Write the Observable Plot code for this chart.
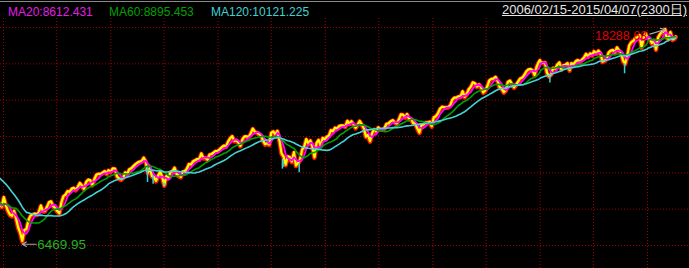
<!DOCTYPE html>
<html><head><meta charset="utf-8">
<script src="https://cdn.jsdelivr.net/npm/d3@7"></script>
<script src="https://cdn.jsdelivr.net/npm/@observablehq/plot@0.6"></script>
<style>
html,body{margin:0;padding:0;background:#000;}
#wrap{position:relative;width:689px;height:268px;background:#000;overflow:hidden;font-family:"Liberation Sans",Arial,sans-serif;}
#hdr{position:absolute;left:0;top:0;width:689px;height:16px;background:#000;z-index:2;}
#hdr .line{position:absolute;left:0;top:1px;width:689px;height:1px;background:#8a8a8a;}
#hdr span{position:absolute;white-space:nowrap;}
.ma{top:6px;font-size:12px;line-height:12px;}
#range{top:3px;right:2px;font-size:13px;line-height:13px;color:#e6e6e6;text-decoration:underline;}
#chart{position:absolute;left:0;top:0;}
</style></head>
<body>
<div id="wrap">
  <div id="hdr"><div class="line"></div>
    <span class="ma" id="ma20" style="left:8px;color:#e020e0"></span>
    <span class="ma" id="ma60" style="left:109px;color:#00a000"></span>
    <span class="ma" id="ma120" style="left:211px;color:#40d0d0"></span>
    <span id="range"></span>
  </div>
  <div id="chart"></div>
</div>
<script>
// ---- header texts ----
const maLabels = ["MA20:8612.431", "MA60:8895.453", "MA120:10121.225"];
const rangeLabel = "2006/02/15-2015/04/07(2300日)";

// ---- weekly closes (Dow Jones) ----
const dates2008 = ["06-06","06-13","06-20","06-27","07-03","07-11","07-18","07-25","08-01","08-08","08-15","08-22","08-29","09-05","09-12","09-19","09-26","10-03","10-10","10-17","10-24","10-31","11-07","11-14","11-21","11-28","12-05","12-12","12-19","12-26"];
const close2008 = [12209,12308,11843,11347,11288,11100,11496,11370,11326,11734,11659,11628,11543,11220,11421,11388,11143,10325,8451,8852,8378,9325,8943,8497,8046,8829,8635,8629,8579,8515];

const dates2009 = ["01-02","01-09","01-16","01-23","01-30","02-06","02-13","02-20","02-27","03-06","03-13","03-20","03-27","04-03","04-09","04-17","04-24","05-01","05-08","05-15","05-22","05-29","06-05","06-12","06-19","06-26","07-02","07-10","07-17","07-24","07-31","08-07","08-14","08-21","08-28","09-04","09-11","09-18","09-25","10-02","10-09","10-16","10-23","10-30","11-06","11-13","11-20","11-27","12-04","12-11","12-18","12-24","12-31"];
const close2009 = [9034,8599,8281,8077,8000,8280,7850,7366,7063,6627,7224,7278,7776,8018,8083,8131,8076,8212,8575,8268,8277,8500,8763,8799,8539,8438,8280,8146,8743,9093,9171,9370,9321,9505,9544,9441,9605,9820,9665,9487,9865,9996,9972,9713,10023,10270,10318,10310,10389,10471,10329,10520,10428];

const dates2010 = ["01-08","01-15","01-22","01-29","02-05","02-12","02-19","02-26","03-05","03-12","03-19","03-26","04-01","04-09","04-16","04-23","04-30","05-07","05-14","05-21","05-28","06-04","06-11","06-18","06-25","07-02","07-09","07-16","07-23","07-30","08-06","08-13","08-20","08-27","09-03","09-10","09-17","09-24","10-01","10-08","10-15","10-22","10-29","11-05","11-12","11-19","11-26","12-03","12-10","12-17","12-23","12-31"];
const close2010 = [10618,10610,10172,10067,10012,10099,10402,10325,10567,10625,10742,10850,10927,10997,11019,11204,11009,10380,10620,10193,10137,9931,10212,10450,10144,9686,10198,10098,10424,10466,10653,10303,10213,10150,10448,10462,10607,10860,10829,11006,11062,11133,11118,11444,11192,11204,11092,11382,11410,11491,11573,11578];

const dates2011 = ["01-07","01-14","01-21","01-28","02-04","02-11","02-18","02-25","03-04","03-11","03-18","03-25","04-01","04-08","04-15","04-21","04-29","05-06","05-13","05-20","05-27","06-03","06-10","06-17","06-24","07-01","07-08","07-15","07-22","07-29","08-05","08-12","08-19","08-26","09-02","09-09","09-16","09-23","09-30","10-07","10-14","10-21","10-28","11-04","11-11","11-18","11-25","12-02","12-09","12-16","12-23","12-30"];
const close2011 = [11675,11787,11871,11824,12092,12273,12391,12130,12170,12044,11858,12221,12376,12380,12342,12505,12811,12638,12596,12512,12441,12151,11952,12004,11934,12582,12657,12480,12681,12143,11445,11269,10818,11285,11240,10992,11509,10771,10913,11103,11644,11809,12231,11983,12153,11796,11231,12019,12184,11867,12294,12218];

const dates2012 = ["01-06","01-13","01-20","01-27","02-03","02-10","02-17","02-24","03-02","03-09","03-16","03-23","03-30","04-05","04-13","04-20","04-27","05-04","05-11","05-18","05-25","06-01","06-08","06-15","06-22","06-29","07-06","07-13","07-20","07-27","08-03","08-10","08-17","08-24","08-31","09-07","09-14","09-21","09-28","10-05","10-12","10-19","10-26","11-02","11-09","11-16","11-23","11-30","12-07","12-14","12-21","12-28"];
const close2012 = [12360,12422,12720,12660,12862,12801,12950,12983,12978,12922,13233,13081,13212,13060,12850,13029,13228,13038,12821,12369,12455,12119,12554,12767,12640,12880,12772,12777,12823,13075,13096,13207,13275,13157,13090,13306,13593,13579,13437,13610,13328,13343,13107,13093,12815,12588,13010,13026,13155,13135,13190,12938];

const dates2013 = ["01-04","01-11","01-18","01-25","02-01","02-08","02-15","02-22","03-01","03-08","03-15","03-22","03-28","04-05","04-12","04-19","04-26","05-03","05-10","05-17","05-24","05-31","06-07","06-14","06-21","06-28","07-05","07-12","07-19","07-26","08-02","08-09","08-16","08-23","08-30","09-06","09-13","09-20","09-27","10-04","10-11","10-18","10-25","11-01","11-08","11-15","11-22","11-29","12-06","12-13","12-20","12-27","12-31"];
const close2013 = [13435,13488,13650,13896,14010,13993,13982,14001,14090,14397,14515,14512,14579,14565,14865,14548,14712,14974,15118,15354,15303,15116,15248,15070,14800,14910,15136,15465,15544,15559,15659,15426,15082,15010,14810,14922,15376,15452,15258,15073,15237,15400,15570,15615,15762,15962,16065,16086,16020,15755,16221,16479,16577];

const dates2014 = ["01-03","01-10","01-17","01-24","01-31","02-07","02-14","02-21","02-28","03-07","03-14","03-21","03-28","04-04","04-11","04-17","04-25","05-02","05-09","05-16","05-23","05-30","06-06","06-13","06-20","06-27","07-03","07-11","07-18","07-25","08-01","08-08","08-15","08-22","08-29","09-05","09-12","09-19","09-26","10-03","10-10","10-17","10-24","10-31","11-07","11-14","11-21","11-28","12-05","12-12","12-19","12-26","12-31"];
const close2014 = [16469,16437,16458,15880,15699,15794,16154,16104,16322,16453,16066,16303,16323,16413,16027,16409,16361,16513,16583,16492,16607,16717,16924,16776,16948,16851,17068,16944,17100,16961,16493,16554,16663,17001,17098,17138,16988,17280,17114,17010,16544,16380,16805,17391,17573,17634,17810,17828,17958,17280,17805,18054,17823];

const dates2015 = ["01-02","01-09","01-16","01-23","01-30","02-06","02-13","02-20","02-27","03-02","03-06","03-13","03-20","03-27","04-02","04-07"];
const close2015 = [17833,17737,17512,17673,17165,17825,18019,18140,18133,18288,17856,17749,18128,17713,17763,17876];

// sharp intraday drops (down candles)
const spikeDates = ["2010-05-06","2010-05-25","2010-07-01","2011-08-08","2011-08-10","2011-10-04","2014-02-03","2014-10-15"];
const spikeTop = [10800,10250,9850,11150,11000,10900,15700,16400];
const spikeLow = [9870,9774,9614,10604,10700,10404,15340,15855];

// annotated extremes
const lowDate = "2009-03-06", lowValue = 6469.95, lowClose = 6627;
const highDate = "2015-03-02", highValue = 18288.63;

// grid
const gridDates = ["2009-01-01","2009-07-01","2010-01-01","2010-07-01","2011-01-01","2011-07-01","2012-01-01","2012-07-01","2013-01-01","2013-07-01","2014-01-01","2014-07-01","2015-01-01"];
const gridValues = [6400,8400,10400,12400,14400,16400,18400];

// ---- build ----
const years = [[2008,dates2008,close2008],[2009,dates2009,close2009],[2010,dates2010,close2010],[2011,dates2011,close2011],[2012,dates2012,close2012],[2013,dates2013,close2013],[2014,dates2014,close2014],[2015,dates2015,close2015]];
const data = [];
for (const [y, ds, cs] of years) ds.forEach((md, i) => data.push({date: new Date(`${y}-${md}`), close: cs[i]}));
const spikes = spikeDates.map((d, i) => ({date: new Date(d), top: spikeTop[i], low: spikeLow[i]}));
const lowD = new Date(lowDate), highD = new Date(highDate);
const ann = [
  {x1: d3.utcDay.offset(lowD, 47), y1: lowValue, x2: lowD, y2: lowValue},
  {x1: d3.utcDay.offset(highD, -52), y1: highValue - 250, x2: highD, y2: highValue}
];

d3.select("#ma20").text(maLabels[0]);
d3.select("#ma60").text(maLabels[1]);
d3.select("#ma120").text(maLabels[2]);
d3.select("#range").text(rangeLabel);

const xy = {x: "date", y: "close"};
const plot = Plot.plot({
  width: 689, height: 268, margin: 0,
  style: {background: "#000", overflow: "hidden"},
  x: {type: "utc", domain: [new Date("2009-01-01"), new Date("2015-01-01")], range: [3, 647], axis: null},
  y: {domain: [6400, 18400], range: [245, 27], axis: null},
  marks: [
    Plot.ruleX(gridDates.map(d => new Date(d)), {stroke: "#a00000", strokeDasharray: "1,2", strokeWidth: 1}),
    Plot.ruleY(gridValues, {stroke: "#a00000", strokeDasharray: "1,2", strokeWidth: 1}),
    Plot.ruleX([{date: lowD, top: lowClose, low: lowValue}], {x: "date", y1: "top", y2: "low", stroke: "#ff2000", strokeWidth: 3}),
    Plot.line(data, {...xy, stroke: "#ff1a00", strokeWidth: 4.5}),
    Plot.line(data, {...xy, stroke: "#ffff00", strokeWidth: 2.2, dy: -0.5}),
    Plot.ruleX(spikes, {x: "date", y1: "top", y2: "low", stroke: "#40d0d0", strokeWidth: 1.5}),
    Plot.line(data, Plot.windowY({k: 4, anchor: "end"}, {...xy, stroke: "#ff00ff", strokeWidth: 1.8})),
    Plot.line(data, Plot.windowY({k: 12, anchor: "end"}, {...xy, stroke: "#00a000", strokeWidth: 1.6})),
    Plot.line(data, Plot.windowY({k: 24, anchor: "end"}, {...xy, stroke: "#44d4d8", strokeWidth: 1.6})),
    Plot.arrow(ann, {x1: "x1", y1: "y1", x2: "x2", y2: "y2", stroke: "#a8a8a8", strokeWidth: 1.2, headLength: 6}),
    Plot.text([{date: lowD, v: lowValue}], {x: "date", y: "v", text: () => "6469.95", dx: 15, textAnchor: "start", fill: "#20b020", fontSize: 13.5, fontFamily: "Liberation Sans, Arial, sans-serif"}),
    Plot.text([{date: highD, v: highValue}], {x: "date", y: "v", text: () => "18288.63", dx: -18, dy: 6, textAnchor: "end", fill: "#e00000", fontSize: 12.5, fontFamily: "Liberation Sans, Arial, sans-serif"})
  ]
});
document.getElementById("chart").appendChild(plot);
</script>
</body></html>
